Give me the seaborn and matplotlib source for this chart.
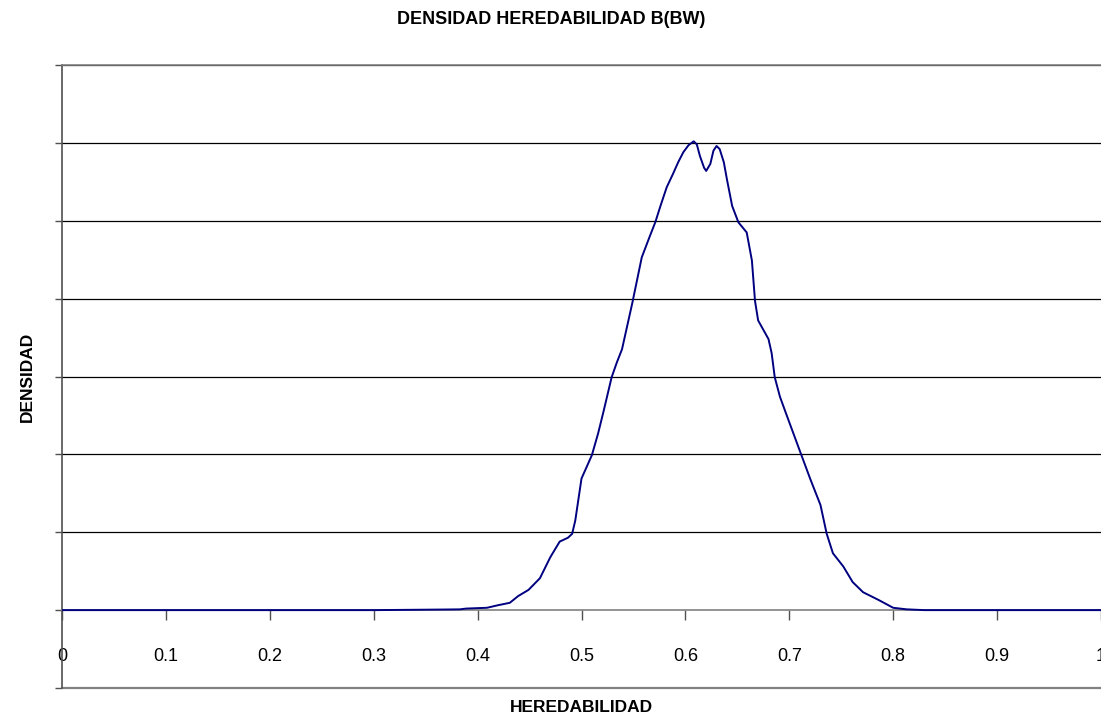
import matplotlib
matplotlib.use("Agg")
import matplotlib.pyplot as plt
import seaborn as sns
import pandas as pd

# Heritability values (x) and density (y)
heredabilidad = [0.0, 0.30, 0.345, 0.37, 0.383, 0.389, 0.409, 0.420, 0.431, 0.439,
                 0.449, 0.460, 0.470, 0.479, 0.487, 0.491, 0.494, 0.500, 0.510, 0.516,
                 0.521, 0.529, 0.534, 0.539, 0.549, 0.558, 0.566, 0.571, 0.576, 0.582,
                 0.588, 0.593, 0.598, 0.603, 0.608, 0.611, 0.614, 0.618, 0.620, 0.624,
                 0.627, 0.630, 0.633, 0.637, 0.640, 0.645, 0.651, 0.659, 0.664, 0.667,
                 0.670, 0.680, 0.683, 0.686, 0.691, 0.697, 0.710, 0.720, 0.730, 0.736,
                 0.742, 0.752, 0.761, 0.771, 0.786, 0.800, 0.813, 0.830, 1.0]
densidad = [0.0, 0.0, 0.005, 0.008, 0.01, 0.02, 0.03, 0.064, 0.094, 0.18,
            0.26, 0.41, 0.68, 0.88, 0.93, 0.98, 1.15, 1.69, 1.99, 2.27,
            2.54, 2.99, 3.18, 3.35, 3.95, 4.53, 4.81, 4.98, 5.19, 5.43,
            5.60, 5.75, 5.88, 5.97, 6.02, 5.98, 5.83, 5.68, 5.64, 5.73,
            5.90, 5.96, 5.92, 5.75, 5.53, 5.19, 4.98, 4.85, 4.49, 3.97,
            3.72, 3.48, 3.30, 2.99, 2.74, 2.52, 2.05, 1.69, 1.35, 0.98,
            0.73, 0.56, 0.36, 0.23, 0.13, 0.03, 0.01, 0.0, 0.0]
x_ticks = [0, 0.1, 0.2, 0.3, 0.4, 0.5, 0.6, 0.7, 0.8, 0.9, 1]
x_tick_labels = ["0", "0.1", "0.2", "0.3", "0.4", "0.5", "0.6", "0.7", "0.8", "0.9", "1"]

df = pd.DataFrame({"HEREDABILIDAD": heredabilidad, "DENSIDAD": densidad})

sns.set_style("white")
plt.rcParams["font.family"] = ["Liberation Sans", "DejaVu Sans"]

fig = plt.figure(figsize=(11.01, 7.22), dpi=100)
ax = fig.add_axes([62 / 1101, 34 / 722, 1039 / 1101, 623 / 722])

# horizontal gridlines
for yv in range(1, 8):
    ax.axhline(yv, color="black", lw=0.9, zorder=1)

sns.lineplot(data=df, x="HEREDABILIDAD", y="DENSIDAD", ax=ax,
             color="#000080", lw=1.4, zorder=3)

ax.set_xlim(0, 1)
ax.set_ylim(-1, 7)

# x-axis crosses at zero, plot-area bottom border below
ax.spines["bottom"].set_position(("data", 0))
ax.spines["bottom"].set_color("#808080")
ax.spines["bottom"].set_linewidth(1.2)
ax.spines["right"].set_visible(False)
ax.spines["top"].set_color("#808080")
ax.spines["top"].set_linewidth(1.2)
ax.spines["left"].set_color("#505050")
ax.spines["left"].set_linewidth(1.2)
ax.axhline(-1, color="#808080", lw=1.6, clip_on=False, zorder=2)

ax.set_xticks(x_ticks)
ax.set_xticklabels(x_tick_labels, fontsize=13, color="black")
ax.set_yticks(range(-1, 8))
ax.set_yticklabels([])
ax.tick_params(axis="x", direction="out", length=7, width=1, color="#505050", pad=20,
               bottom=True)
ax.tick_params(axis="y", direction="out", length=5, width=1, color="#505050", left=True)

ax.set_xlabel("")
ax.set_ylabel("")
fig.text(581 / 1101, 1 - 708 / 722, "HEREDABILIDAD", ha="center", va="center",
         fontsize=12.5, fontweight="bold", color="black")
fig.text(27 / 1101, 1 - 377 / 722, "DENSIDAD", ha="center", va="center",
         rotation=90, fontsize=12.5, fontweight="bold", color="black")
fig.text(551 / 1101, 1 - 20 / 722, "DENSIDAD HEREDABILIDAD B(BW)", ha="center",
         va="center", fontsize=13, fontweight="bold", color="black")

fig.savefig("out.png", dpi=100)
